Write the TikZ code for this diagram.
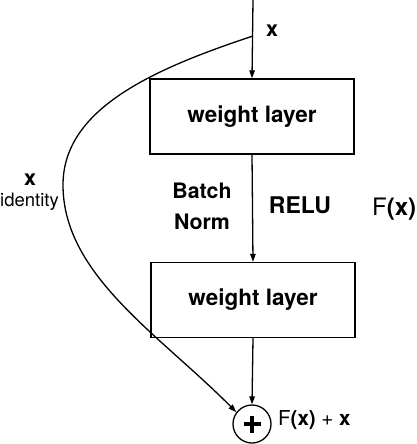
\documentclass[tikz,border=0pt]{standalone}
\usepackage{fontspec}
\setmainfont{TeX Gyre Heros}
\usetikzlibrary{arrows.meta}
\tikzset{
  box/.style={draw, line width=1.4pt, minimum width=204pt, minimum height=75pt, inner sep=0pt,
    font=\fontsize{22.5}{27}\selectfont\bfseries},
  lbl/.style={inner sep=0pt, font=\fontsize{21.5}{25}\selectfont\bfseries},
  conn/.style={line width=1.3pt, -{Triangle[length=8pt,width=5.5pt]}},
  sumnode/.style={circle, draw, line width=1.3pt, minimum size=38pt, inner sep=0pt}
}
\begin{document}
\begin{tikzpicture}[x=1pt,y=-1pt]
\useasboundingbox (0,0) rectangle (416,444);
% nodes
\node[box] (w1) at (252,116.5) {weight layer};
\node[box] (w2) at (253,300) {weight layer};
\node[sumnode] (sum) at (252,424) {};
\coordinate (top) at (253,0);
\coordinate (split) at (253,36);
% labels
\node[lbl] (xin) at (272,31) {x};
\node[lbl, align=center, font=\fontsize{21.3}{31}\selectfont\bfseries] (bn) at (202,206) {Batch\\Norm};
\node[lbl, font=\fontsize{23}{27}\selectfont\bfseries] (relu) at (300,205) {RELU};
\node[inner sep=0pt, anchor=west, font=\fontsize{24}{28}\selectfont] (fx) at (372,209) {F\textbf{(x)}};
\node[lbl] (xid) at (30,180) {x};
\node[inner sep=0pt, font=\fontsize{18.5}{22}\selectfont] (ident) at (29.5,202) {identity};
\node[inner sep=0pt, anchor=west, font=\fontsize{20.5}{24}\selectfont] (out) at (278,420) {F\textbf{(x)} + \textbf{x}};
% connectors
\draw[conn] (top) -- (w1.north);
\draw[conn] (w1.south) -- (w2.north);
\draw[conn] (w2.south) -- (sum.north);
\draw[conn] (split) .. controls (150,70) and (63,110) .. (63,185)
  .. controls (63,275) and (160,335) .. (sum.143);
% plus sign
\draw[line width=4.5pt] (sum.center) ++(-8.5,0) -- ++(17,0);
\draw[line width=4.5pt] (sum.center) ++(0,-8.5) -- ++(0,17);
\end{tikzpicture}
\end{document}
